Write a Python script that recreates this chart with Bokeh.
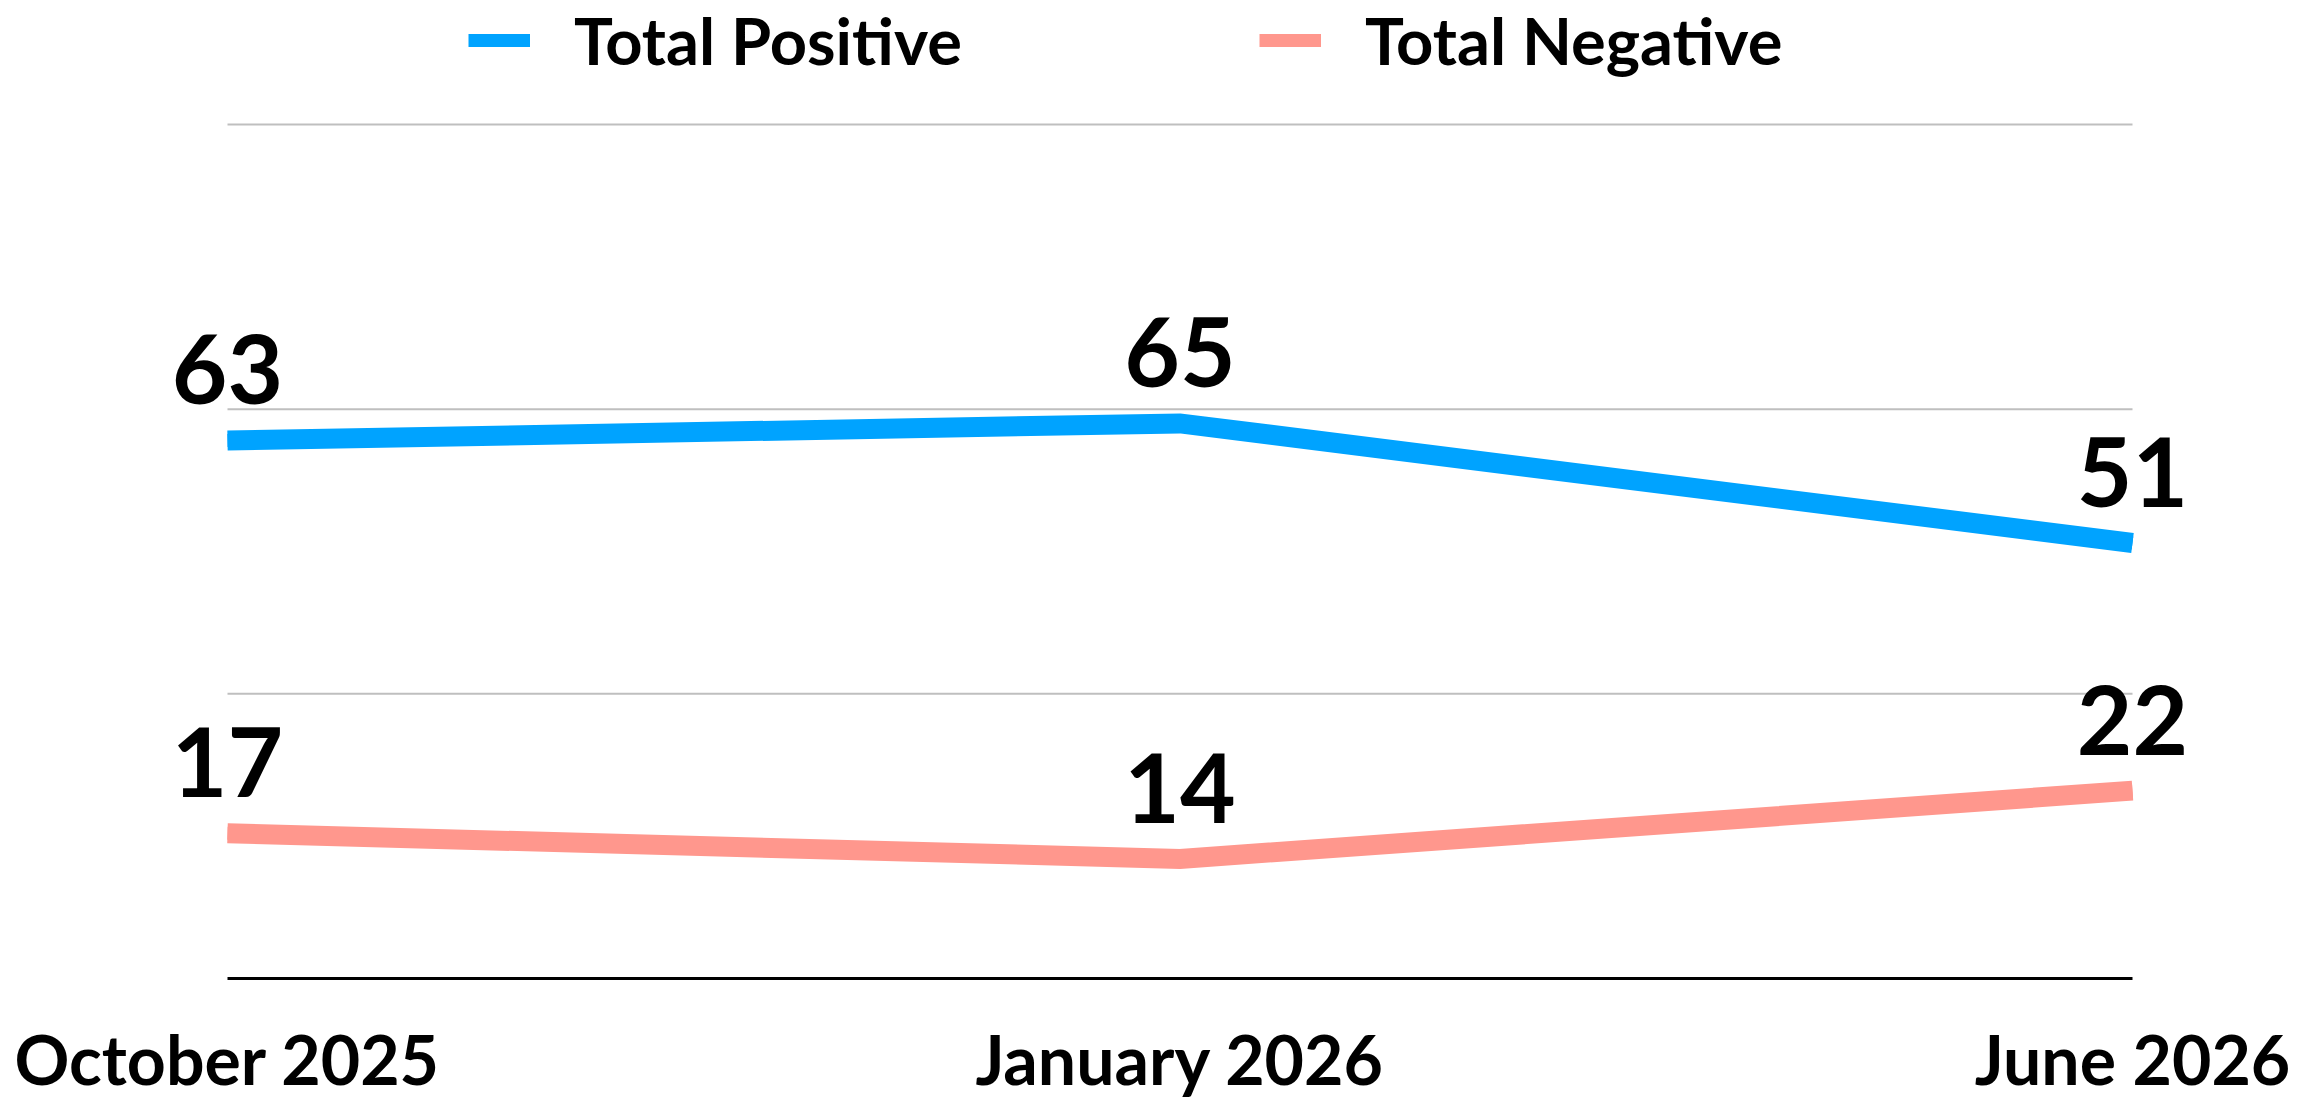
from bokeh.plotting import figure
from bokeh.models import ColumnDataSource, LabelSet, Legend, LegendItem, FixedTicker, Range1d
from bokeh.core.properties import value
from bokeh.embed import file_html
from bokeh.resources import INLINE

periods = ["October 2025", "January 2026", "June 2026"]
total_positive = [63, 65, 51]
total_negative = [17, 14, 22]
series_names = ["Total Positive", "Total Negative"]
grid_values = [100 / 3, 200 / 3, 100]

BLUE = "#00A3FF"
PINK = "#FF978D"
FONT = "Lato"

xs = list(range(len(periods)))
n_last = len(periods) - 1

# layout (canvas pixels); the frame covers the whole canvas so nothing is clipped
W, H = 2307, 1098
PLOT_LEFT, PLOT_RIGHT = 227, 2132      # where first / last period sit
PLOT_TOP, BASE = 124, 978              # where 100 and 0 sit
ux = (PLOT_RIGHT - PLOT_LEFT) / n_last
x_start = -PLOT_LEFT / ux
x_end = x_start + W / ux
uy = (BASE - PLOT_TOP) / 100.0
y_start = -(H - BASE) / uy
y_end = BASE / uy

p = figure(width=W, height=H, output_backend="svg", toolbar_location=None, title=None,
           x_range=Range1d(x_start, x_end), y_range=Range1d(y_start, y_end),
           min_border_left=0, min_border_right=0, min_border_top=0, min_border_bottom=0)
p.outline_line_color = None
p.background_fill_color = "white"
p.border_fill_color = "white"

p.yaxis.visible = False
p.xgrid.visible = False
p.ygrid.visible = False

# horizontal gridlines spanning only the category extent
p.segment(x0=[xs[0]] * len(grid_values), x1=[xs[-1]] * len(grid_values),
          y0=grid_values, y1=grid_values, line_color="#BFBFBF", line_width=2)

# x axis drawn at y=0 (baseline), limited to the category extent
xa = p.xaxis[0]
xa.fixed_location = 0
xa.bounds = (xs[0], xs[-1])
xa.ticker = FixedTicker(ticks=xs)
xa.major_label_overrides = {i: lab for i, lab in zip(xs, periods)}
xa.major_label_text_font = FONT
xa.major_label_text_font_style = "bold"
xa.major_label_text_font_size = "68px"
xa.major_label_text_color = "black"
xa.major_label_standoff = 39
xa.axis_line_color = "black"
xa.axis_line_width = 3
xa.major_tick_line_color = None
xa.minor_tick_line_color = None
xa.major_tick_out = 0
xa.major_tick_in = 0

pos_src = ColumnDataSource(dict(x=xs, y=total_positive, t=[str(v) for v in total_positive]))
neg_src = ColumnDataSource(dict(x=xs, y=total_negative, t=[str(v) for v in total_negative]))

# thinner copies (hidden beneath the main lines) provide the legend swatches
leg_pos = p.line("x", "y", source=pos_src, line_width=13, line_color=BLUE)
leg_neg = p.line("x", "y", source=neg_src, line_width=13, line_color=PINK)
p.line("x", "y", source=pos_src, line_width=20, line_color=BLUE, line_join="miter", line_cap="butt")
p.line("x", "y", source=neg_src, line_width=20, line_color=PINK, line_join="miter", line_cap="butt")

for src in (pos_src, neg_src):
    labels = LabelSet(x="x", y="y", text="t", source=src, y_offset=36,
                      text_align="center", text_baseline="alphabetic",
                      text_font=value(FONT), text_font_style="bold",
                      text_font_size="96px", text_color="black")
    p.add_layout(labels)

legend = Legend(items=[LegendItem(label=series_names[0], renderers=[leg_pos]),
                       LegendItem(label=series_names[1], renderers=[leg_neg])],
                orientation="horizontal", location=(468, H - 79),
                glyph_width=62, glyph_height=40, label_standoff=44, spacing=297,
                label_text_font=FONT, label_text_font_style="bold",
                label_text_font_size="65px", label_text_color="black",
                border_line_color=None, background_fill_alpha=0,
                padding=0, margin=0)
p.add_layout(legend)

open("out.html", "w").write(file_html(p, INLINE))
